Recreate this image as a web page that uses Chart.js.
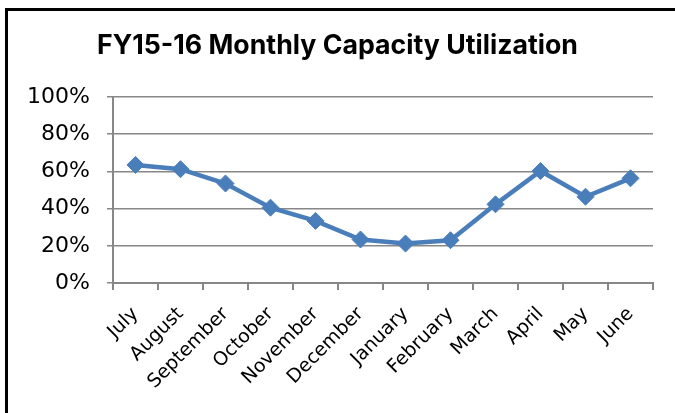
<!DOCTYPE html>
<html>
<head>
<meta charset="utf-8">
<script src="https://cdn.jsdelivr.net/npm/chart.js@4"></script>
<style>
  html, body { margin: 0; padding: 0; background: #fff; overflow: hidden; }
  #wrap { position: relative; width: 675px; height: 413px; }
</style>
</head>
<body>
<div id="wrap"><canvas id="c" width="675" height="413"></canvas></div>
<script>
const titleText = 'FY15-16 Monthly Capacity Utilization';
const months = ['July','August','September','October','November','December','January','February','March','April','May','June'];
const utilization = [63.5, 61.2, 53.5, 40.5, 33.4, 23.4, 21.2, 23.0, 42.3, 60.2, 46.4, 56.3];
const yTicks = [0, 20, 40, 60, 80, 100];

const FONT = 'DejaVu Sans';
const TITLE_FONT = 'Inter';
const GRID = '#878787';

const borderPlugin = {
  id: 'frame',
  beforeDraw(chart) {
    const ctx = chart.ctx;
    ctx.save();
    ctx.fillStyle = '#fff';
    ctx.fillRect(0, 0, chart.width, chart.height);
    ctx.fillStyle = '#000';
    ctx.fillRect(5, 8, 3, chart.height - 8);
    ctx.fillRect(5, 8, chart.width - 5, 3);
    ctx.restore();
  }
};

new Chart(document.getElementById('c'), {
  type: 'line',
  data: {
    labels: months,
    datasets: [{
      data: utilization,
      borderColor: '#4a7ebb',
      backgroundColor: '#4a7ebb',
      borderWidth: 4.5,
      pointStyle: 'rectRot',
      pointRadius: 8.5,
      pointHoverRadius: 8.5,
      pointBackgroundColor: '#4a7ebb',
      pointBorderColor: '#4a7ebb',
      pointBorderWidth: 1,
      tension: 0
    }]
  },
  options: {
    responsive: false,
    animation: false,
    events: [],
    layout: { padding: { left: 22, right: 22, top: 0, bottom: 0 } },
    plugins: {
      legend: { display: false },
      tooltip: { enabled: false },
      title: {
        display: true,
        text: titleText,
        color: '#000',
        font: { family: TITLE_FONT, size: 26.7, weight: 'bold' },
        padding: { top: 30, bottom: 35 }
      }
    },
    scales: {
      x: {
        type: 'category',
        offset: true,
        grid: {
          offset: true,
          drawOnChartArea: false,
          drawTicks: true,
          tickLength: 7,
          color: GRID,
          lineWidth: 2
        },
        border: { display: true, color: GRID, width: 2 },
        ticks: {
          minRotation: 45,
          maxRotation: 45,
          autoSkip: false,
          padding: 13,
          color: '#000',
          font: { family: FONT, size: 19 }
        },
        afterFit(scale) { scale.height = 130; }
      },
      y: {
        min: 0,
        max: 100,
        afterBuildTicks(scale) { scale.ticks = yTicks.map(v => ({ value: v })); },
        grid: {
          drawTicks: true,
          tickLength: 6,
          color: GRID,
          lineWidth: 1.5
        },
        border: { display: true, color: GRID, width: 2 },
        ticks: {
          padding: 17,
          color: '#000',
          font: { family: FONT, size: 22 },
          callback: v => v + '%'
        },
        afterFit(scale) { scale.width = 91; }
      }
    }
  },
  plugins: [borderPlugin]
});
</script>
</body>
</html>
